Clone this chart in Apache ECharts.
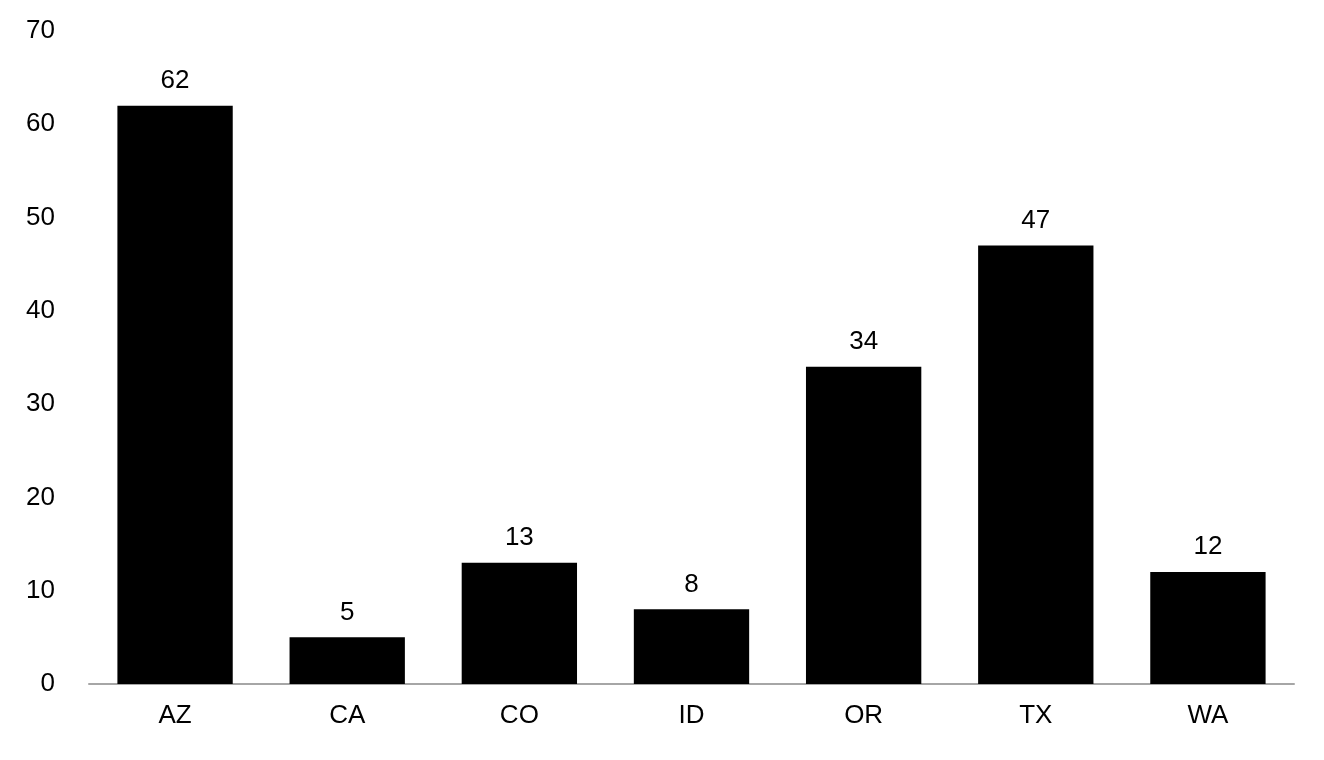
<!DOCTYPE html>
<html>
<head>
<meta charset="utf-8">
<script src="https://cdn.jsdelivr.net/npm/echarts@6/dist/echarts.min.js"></script>
<style>
  html, body { margin: 0; padding: 0; background: #fff; }
  #chart { width: 1324px; height: 760px; }
</style>
</head>
<body>
<div id="chart"></div>
<script>
var states = ['AZ', 'CA', 'CO', 'ID', 'OR', 'TX', 'WA'];
var counts = [62, 5, 13, 8, 34, 47, 12];
var yTicks = [0, 70, 10]; // min, max, step

var myChart = echarts.init(document.getElementById('chart'));

var font = 'Liberation Sans, Arial, sans-serif';

var option = {
  animation: false,
  grid: { left: 89, right: 30, top: 31, bottom: 76, containLabel: false },
  xAxis: {
    type: 'category',
    data: states,
    axisLine: { show: true, lineStyle: { color: '#a6a6a6', width: 2 } },
    axisTick: { show: false },
    axisLabel: { color: '#000', fontSize: 26, fontFamily: font, margin: 19 }
  },
  yAxis: {
    type: 'value',
    min: yTicks[0],
    max: yTicks[1],
    interval: yTicks[2],
    splitLine: { show: false },
    axisLine: { show: false },
    axisTick: { show: false },
    axisLabel: { color: '#000', fontSize: 26, fontFamily: font, margin: 34 }
  },
  series: [
    {
      name: 'count',
      type: 'bar',
      data: counts,
      barWidth: '67%',
      itemStyle: { color: '#000' },
      label: {
        show: true,
        position: 'top',
        distance: 12,
        color: '#000',
        fontSize: 26,
        fontFamily: font
      }
    }
  ]
};

myChart.setOption(option);
</script>
</body>
</html>
